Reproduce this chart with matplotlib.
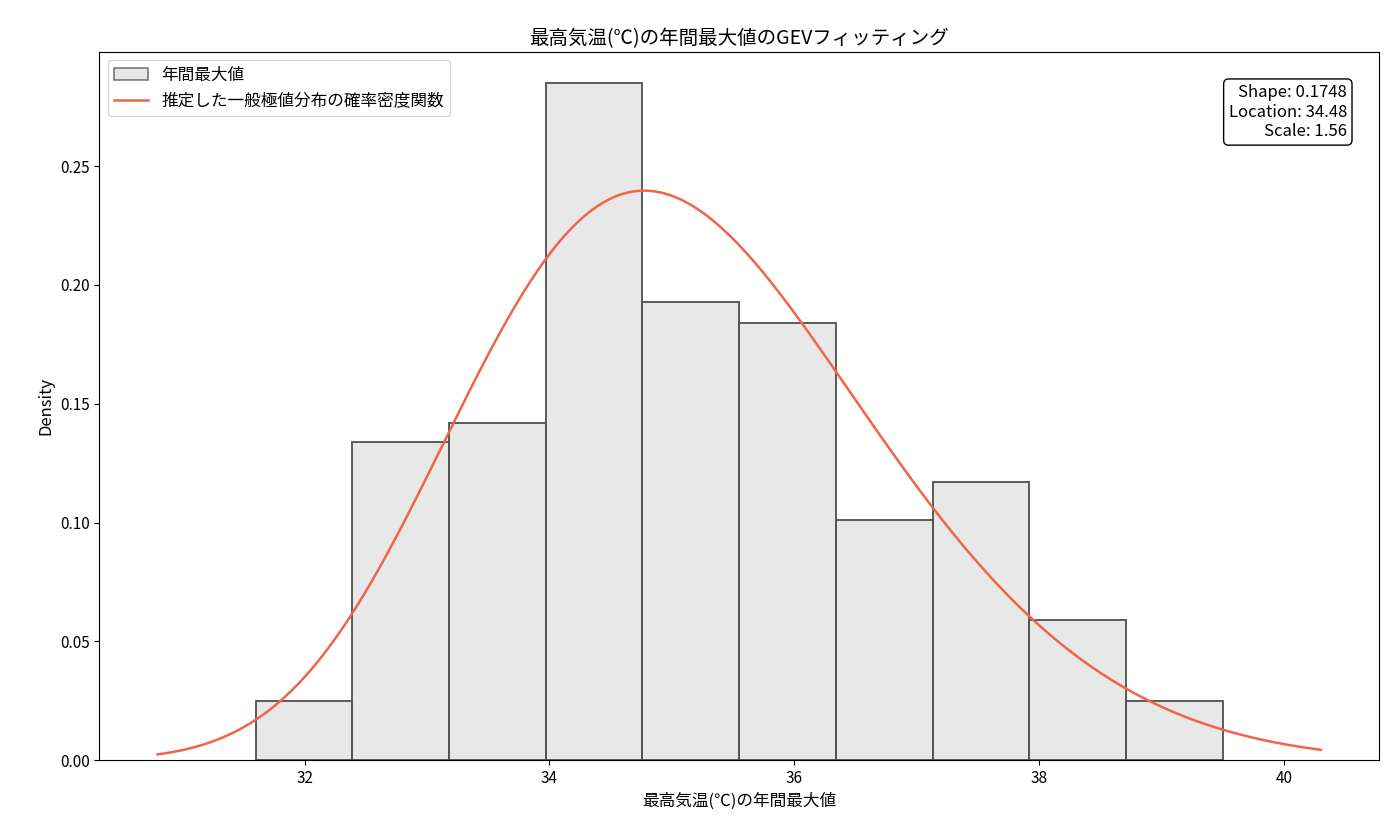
import numpy as np
import matplotlib.pyplot as plt

plt.rcParams['font.family'] = ['Noto Sans CJK JP', 'DejaVu Sans']

bin_edges = np.linspace(31.6, 39.5, 11)
densities = [0.025, 0.134, 0.142, 0.285, 0.193, 0.184, 0.101, 0.117, 0.059, 0.025]
shape, loc, scale = 0.1748, 34.48, 1.56
x_min, x_max = 30.8, 40.3


def gev_pdf(x, c, mu, sigma):
    # scipy genextreme convention (xi = -c)
    xi = -c
    z = (x - mu) / sigma
    t = (1 + xi * z) ** (-1 / xi)
    return t ** (xi + 1) * np.exp(-t) / sigma


fig, ax = plt.subplots(figsize=(14, 8.4), dpi=100)
widths = np.diff(bin_edges)
bars = ax.bar(bin_edges[:-1], densities, width=widths, align='edge',
              color='lightgray', alpha=0.5, edgecolor='black', linewidth=1.2, label='年間最大値')
ax.bar(bin_edges[:-1], densities, width=widths, align='edge',
       fill=False, edgecolor='#555555', linewidth=1.2)

xs = np.linspace(x_min, x_max, 400)
line, = ax.plot(xs, gev_pdf(xs, shape, loc, scale), color='#f0654a', linewidth=1.8,
                label='推定した一般極値分布の確率密度関数')

ax.set_ylim(0, 0.298)
ax.set_xticks([32, 34, 36, 38, 40])
ax.set_title('最高気温(℃)の年間最大値のGEVフィッティング', fontsize=14)
ax.set_xlabel('最高気温(℃)の年間最大値', fontsize=12)
ax.set_ylabel('Density', fontsize=12)
ax.tick_params(labelsize=11)
ax.legend(handles=[bars, line], loc='upper left', fontsize=12)
ax.text(0.975, 0.955, f'Shape: {shape:.4f}\nLocation: {loc:.2f}\nScale: {scale:.2f}',
        transform=ax.transAxes, ha='right', va='top', fontsize=12,
        bbox=dict(boxstyle='round', facecolor='white', edgecolor='black'))

fig.subplots_adjust(left=0.071, right=0.985, top=0.938, bottom=0.095)
fig.savefig('out.png')
